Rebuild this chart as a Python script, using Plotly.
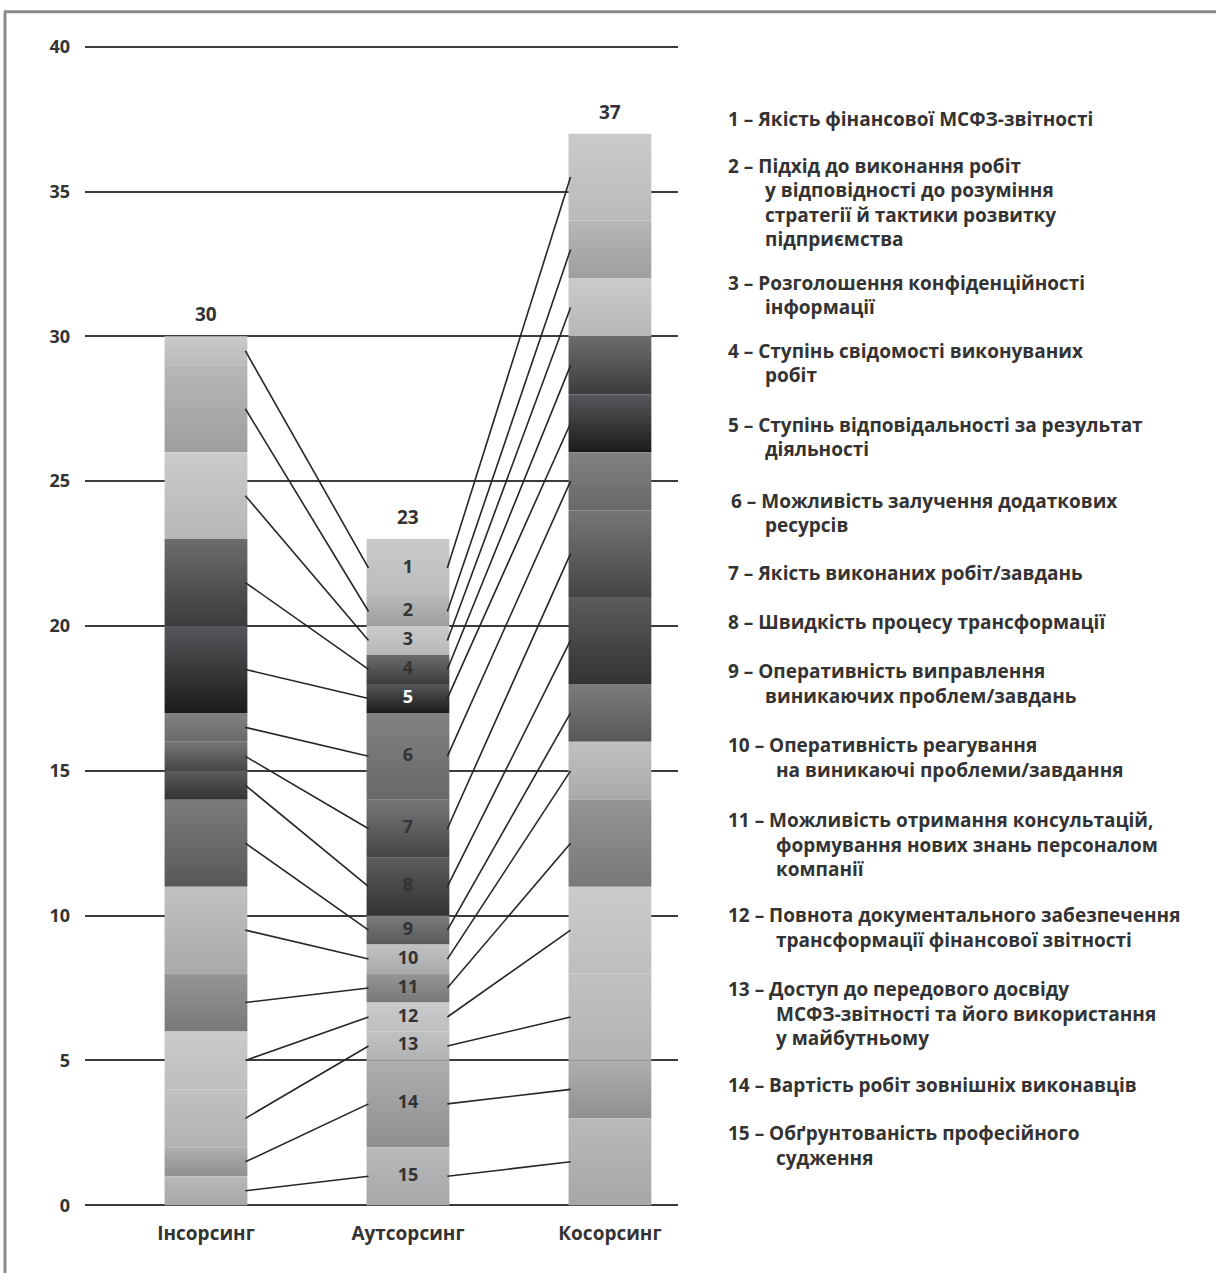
import plotly.graph_objects as go

# --- data -----------------------------------------------------------------
categories = ["Інсорсинг", "Аутсорсинг", "Косорсинг"]
factor_ids = list(range(1, 16))

# score of each factor (1..15) for every sourcing model
insourcing = [1, 3, 3, 3, 3, 1, 1, 1, 3, 3, 2, 2, 2, 1, 1]
outsourcing = [2, 1, 1, 1, 1, 3, 2, 2, 1, 1, 1, 1, 1, 3, 2]
cosourcing = [3, 2, 2, 2, 2, 2, 3, 3, 2, 2, 3, 3, 3, 2, 3]
series = [insourcing, outsourcing, cosourcing]

y_ticks = [0, 5, 10, 15, 20, 25, 30, 35, 40]

factor_names = [
    ["Якість фінансової МСФЗ-звітності"],
    ["Підхід до виконання робіт", "у відповідності до розуміння",
     "стратегії й тактики розвитку", "підприємства"],
    ["Розголошення конфіденційності", "інформації"],
    ["Ступінь свідомості виконуваних", "робіт"],
    ["Ступінь відповідальності за результат", "діяльності"],
    ["Можливість залучення додаткових", "ресурсів"],
    ["Якість виконаних робіт/завдань"],
    ["Швидкість процесу трансформації"],
    ["Оперативність виправлення", "виникаючих проблем/завдань"],
    ["Оперативність реагування", "на виникаючі проблеми/завдання"],
    ["Можливість отримання консультацій,", "формування нових знань персоналом",
     "компанії"],
    ["Повнота документального забезпечення", "трансформації фінансової звітності"],
    ["Доступ до передового досвіду", "МСФЗ-звітності та його використання",
     "у майбутньому"],
    ["Вартість робіт зовнішніх виконавців"],
    ["Обґрунтованість професійного", "судження"],
]

# --- styling ---------------------------------------------------------------
# (top colour, bottom colour) of the vertical gradient for every factor
factor_shades = [
    ("#c9cacc", "#babbbd"), ("#b6b7b9", "#9d9ea0"), ("#cacbcd", "#b6b7b9"),
    ("#6b6c6e", "#3b3c3e"), ("#56575a", "#1b1b1d"), ("#818284", "#67686a"),
    ("#757678", "#444547"), ("#5b5c5e", "#323335"), ("#7b7c7e", "#57585a"),
    ("#c0c1c3", "#a8a9ab"), ("#949597", "#77787a"), ("#cacbcd", "#bdbec0"),
    ("#c0c1c3", "#b1b2b4"), ("#aeafb1", "#8e8f91"), ("#b8b9bb", "#a6a7a9"),
]
label_colors = ["#333333"] * 15
label_colors[4] = "#ffffff"

FONT = "Open Sans"
TEXT = "#333333"
W, H = 1216, 1273
Y_RANGE = [-0.06, 40.06]
PX_PER_UNIT = 28.95
ML, MR = 85, 538
MT = 47 - (Y_RANGE[1] - 40) * PX_PER_UNIT
MB = 68 + Y_RANGE[0] * PX_PER_UNIT
PLOT_W, PLOT_H = W - ML - MR, H - MT - MB
BAR_W = 0.41
X_RANGE = [-0.599, 2.337]


def paper_x(px):
    return (px - ML) / PLOT_W


def paper_y(py):
    return (H - MB - py) / PLOT_H


fig = go.Figure()

# --- stacked segments (factor 15 at the bottom, factor 1 on top) ---------
mids = []
for j, vals in enumerate(series):
    bar_mids = []
    for i in range(len(factor_ids)):
        base = sum(vals[i + 1:])
        top = base + vals[i]
        bar_mids.append((base + top) / 2)
        x0, x1 = j - BAR_W / 2, j + BAR_W / 2
        c_top, c_bot = factor_shades[i]
        fig.add_trace(go.Scatter(
            x=[x0, x1, x1, x0, x0], y=[base, base, top, top, base],
            mode="lines", fill="toself", line=dict(width=0),
            fillgradient=dict(type="vertical",
                              colorscale=[[0, c_bot], [1, c_top]]),
            hoverinfo="skip", showlegend=False,
        ))
    mids.append(bar_mids)

# --- connectors between neighbouring bars ----------------------------------
lx, ly = [], []
for j in range(len(series) - 1):
    for i in range(len(factor_ids)):
        lx += [j + BAR_W / 2 - 0.01, j + 1 - BAR_W / 2 + 0.01, None]
        ly += [mids[j][i], mids[j + 1][i], None]
fig.add_trace(go.Scatter(x=lx, y=ly, mode="lines",
                         line=dict(color="#262626", width=1.6),
                         hoverinfo="skip", showlegend=False))

# --- factor numbers on the middle bar --------------------------------------
fig.add_trace(go.Scatter(
    x=[1] * len(factor_ids), y=mids[1], mode="text",
    text=[str(f) for f in factor_ids],
    textfont=dict(family=FONT, size=18, color=label_colors, weight=700),
    hoverinfo="skip", showlegend=False,
))

# --- totals above the bars -------------------------------------------------
for j, vals in enumerate(series):
    fig.add_annotation(x=j, y=sum(vals), text=str(sum(vals)), showarrow=False,
                       yanchor="bottom", yshift=7,
                       font=dict(family=FONT, size=19, color=TEXT, weight=700))

# --- factor list on the right ---------------------------------------------
first_line_y = [119, 166, 283, 351, 425, 501, 573, 622, 671, 745, 820, 915,
                989, 1085, 1133]
LINE_STEP = 24.5
LIST_FONT = dict(family=FONT, size=19, color=TEXT, weight=700)
for k, lines in enumerate(factor_names):
    num = factor_ids[k]
    x_start = 729 if num == 6 else 726
    indent = 763 if num < 10 else 774
    fig.add_annotation(
        xref="paper", yref="paper", x=paper_x(x_start), y=paper_y(first_line_y[k]),
        text=f"{num} – {lines[0]}", showarrow=False, xanchor="left",
        yanchor="middle", font=LIST_FONT)
    for n, extra in enumerate(lines[1:], start=1):
        fig.add_annotation(
            xref="paper", yref="paper", x=paper_x(indent),
            y=paper_y(first_line_y[k] + n * LINE_STEP),
            text=extra, showarrow=False, xanchor="left", yanchor="middle",
            font=LIST_FONT)

# --- frame -----------------------------------------------------------------
frame = dict(color="#8a8a8a", width=3)
fig.add_shape(type="line", xref="paper", yref="paper",
              x0=paper_x(4), x1=paper_x(1216), y0=paper_y(12), y1=paper_y(12),
              line=frame)
fig.add_shape(type="line", xref="paper", yref="paper",
              x0=paper_x(5), x1=paper_x(5), y0=paper_y(12), y1=paper_y(1273),
              line=frame)

fig.update_layout(
    width=W, height=H,
    margin=dict(l=ML, r=MR, t=MT, b=MB, autoexpand=False),
    plot_bgcolor="white", paper_bgcolor="white",
    showlegend=False,
    xaxis=dict(range=X_RANGE, tickvals=[0, 1, 2], ticktext=categories,
               showgrid=False, zeroline=False, showline=False, ticks="",
               ticklabelstandoff=13,
               tickfont=dict(family=FONT, size=19, color=TEXT, weight=700)),
    yaxis=dict(range=Y_RANGE, tickvals=y_ticks, showgrid=True,
               gridcolor="#3c3c3c", gridwidth=1.6, zeroline=False,
               showline=False, ticks="", ticklabelstandoff=14,
               tickfont=dict(family=FONT, size=18, color=TEXT, weight=700)),
)

fig.write_html("out.html")
